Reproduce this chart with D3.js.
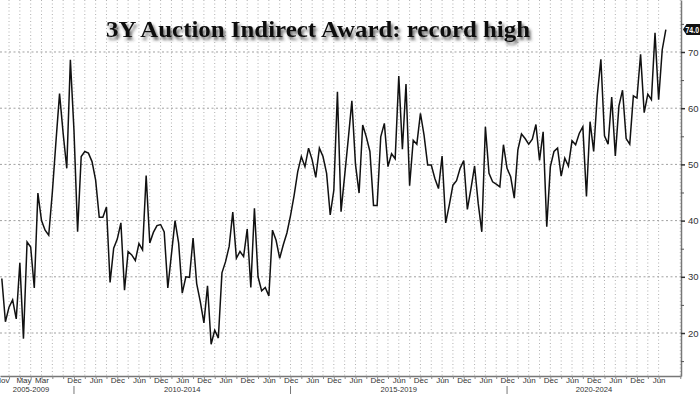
<!DOCTYPE html>
<html>
<head>
<meta charset="utf-8">
<script src="https://cdn.jsdelivr.net/npm/d3@7"></script>
<style>
  html, body { margin: 0; padding: 0; background: #fff; }
  svg { display: block; }
</style>
</head>
<body>
<script>
  // quarterly auctions before the 3Y note was paused, then monthly from Nov 2008
  const earlyAuctions = ['2005-11', '2006-02', '2006-05', '2006-08', '2006-11', '2007-02', '2007-05'];
  const monthlyStart = '2008-11';
  const monthlyEnd = '2023-08';

  // indirect award, % of issue
  const indirectAward = [
    29.7, 22.0, 24.6, 25.9, 22.5, 32.5, 19.0, 36.2, 35.3, 28.0,
    44.9, 40.0, 38.3, 37.4, 45.0, 54.0, 62.6, 55.5, 49.3, 68.6,
    56.0, 38.0, 51.4, 52.3, 52.0, 50.5, 47.2, 40.6, 40.6, 42.4,
    29.0, 35.1, 36.7, 39.6, 27.6, 34.5, 33.9, 32.9, 35.9, 34.8,
    48.0, 36.0, 37.9, 39.1, 39.3, 38.0, 28.0, 34.0, 40.0, 36.0,
    27.1, 30.0, 29.9, 36.9, 28.8, 25.6, 21.8, 28.4, 18.0, 20.5,
    19.1, 30.7, 32.7, 35.4, 41.5, 33.3, 34.5, 33.6, 38.5, 28.1,
    42.2, 30.0, 27.5, 28.1, 26.6, 38.3, 36.5, 33.3, 35.7, 37.8,
    40.9, 44.5, 48.7, 51.4, 49.6, 52.9, 50.8, 47.7, 52.9, 51.4,
    48.4, 41.0, 45.4, 62.9, 41.6, 48.0, 54.5, 61.3, 50.0, 44.9,
    57.0, 54.9, 52.3, 42.7, 42.7, 54.9, 57.3, 49.6, 51.9, 51.0,
    65.7, 52.7, 64.3, 46.2, 54.3, 53.6, 59.1, 55.2, 49.9, 49.9,
    47.5, 45.7, 51.5, 39.6, 42.8, 46.3, 47.1, 49.3, 50.7, 42.0,
    45.7, 49.7, 43.1, 38.0, 56.7, 48.4, 46.9, 46.5, 46.0, 53.5,
    49.3, 47.8, 44.0, 52.6, 55.4, 54.6, 53.6, 54.5, 57.1, 50.7,
    55.8, 38.9, 49.6, 52.3, 52.9, 47.9, 51.1, 49.7, 54.2, 53.5,
    55.5, 56.7, 44.3, 57.6, 52.3, 62.3, 68.7, 55.1, 53.6, 62.0,
    51.5, 60.4, 63.2, 54.6, 53.6, 62.2, 61.8, 69.6, 59.2, 62.5,
    61.5, 73.4, 61.5, 70.4, 74.0
  ];

  const extraTickDates = ['2005-11', '2007-05', '2009-03'];
  const yearGroups = ['2005-2009', '2010-2014', '2015-2019', '2020-2024'];
  const yTicks = [20, 30, 40, 50, 60, 70];
  const titleText = '3Y Auction Indirect Award: record high';

  const parseMonth = d3.timeParse('%Y-%m');
  const fmtMonth = d3.timeFormat('%Y-%m');
  const monthly = d3.timeMonth.range(parseMonth(monthlyStart), d3.timeMonth.offset(parseMonth(monthlyEnd), 1))
    .map(fmtMonth);
  const dates = earlyAuctions.concat(monthly);
  const data = dates.map((d, i) => ({ i, date: parseMonth(d), key: d, value: indirectAward[i] }));

  const width = 700;
  const height = 394;
  const plotRight = 681;
  const plotBottom = 376;
  const axisFont = '"Liberation Sans", Arial, sans-serif';

  const xScale = d3.scaleLinear().domain([-0.5, 188.2]).range([0, plotRight]);
  const yScale = d3.scaleLinear().domain([12.35, 79.25]).range([plotBottom, 0]);

  const svg = d3.select('body').append('svg')
    .attr('width', width)
    .attr('height', height);

  const defs = svg.append('defs');
  const shadow = defs.append('filter').attr('id', 'shadow')
    .attr('x', '-5%').attr('y', '-30%').attr('width', '110%').attr('height', '180%');
  shadow.append('feDropShadow')
    .attr('dx', 2).attr('dy', 3).attr('stdDeviation', 1.6)
    .attr('flood-color', '#333').attr('flood-opacity', 0.75);

  // quarter gridlines (Mar/Jun/Sep/Dec)
  const quarterIdx = data.filter((d) => d.i >= 7 ? d.date.getMonth() % 3 === 2 : d.i % 3 === 2).map((d) => d.i);
  for (let i = 186; i <= 188; i++) if (i % 3 === 2) quarterIdx.push(i);

  svg.append('g')
    .selectAll('line')
    .data(quarterIdx)
    .join('line')
    .attr('x1', (d) => xScale(d)).attr('x2', (d) => xScale(d))
    .attr('y1', 0).attr('y2', plotBottom)
    .attr('stroke', '#b0b0b0')
    .attr('stroke-width', 1)
    .attr('stroke-dasharray', '1,2.5');

  svg.append('g')
    .selectAll('line')
    .data(yTicks)
    .join('line')
    .attr('x1', 0).attr('x2', plotRight)
    .attr('y1', (d) => yScale(d)).attr('y2', (d) => yScale(d))
    .attr('stroke', '#a0a0a0')
    .attr('stroke-width', 1)
    .attr('stroke-dasharray', '2,2.5');

  // title with drop shadow
  svg.append('text')
    .attr('x', 106)
    .attr('y', 37)
    .attr('textLength', 424)
    .attr('lengthAdjust', 'spacingAndGlyphs')
    .attr('font-family', '"Liberation Serif", "DejaVu Serif", serif')
    .attr('font-weight', 'bold')
    .attr('font-size', 23)
    .attr('fill', '#111')
    .attr('filter', 'url(#shadow)')
    .text(titleText);

  // the line
  const line = d3.line()
    .x((d) => xScale(d.i))
    .y((d) => yScale(d.value));

  svg.append('path')
    .datum(data)
    .attr('d', line)
    .attr('fill', 'none')
    .attr('stroke', '#111')
    .attr('stroke-width', 1.5)
    .attr('stroke-linejoin', 'miter');

  // right axis
  const yAxis = svg.append('g')
    .attr('transform', `translate(${plotRight},0)`)
    .call(d3.axisRight(yScale).tickValues(yTicks).tickSize(4).tickSizeOuter(0).tickPadding(3));
  yAxis.select('.domain').attr('stroke', '#777').attr('stroke-width', 1.5);
  yAxis.selectAll('.tick line').attr('stroke', '#333').attr('stroke-width', 1.5);
  yAxis.selectAll('.tick text').attr('font-family', axisFont).attr('font-size', 9.5).attr('fill', '#333');

  svg.append('g')
    .attr('transform', `translate(${plotRight},0)`)
    .call(d3.axisRight(yScale).tickValues([15, 25, 35, 45, 55, 65, 75]).tickSize(3).tickSizeOuter(0).tickFormat(''))
    .call((g) => g.select('.domain').remove())
    .selectAll('.tick line').attr('stroke', '#555');

  // bottom axis: quarter ticks
  const xAxis = svg.append('g')
    .attr('transform', `translate(0,${plotBottom})`)
    .call(d3.axisBottom(xScale).tickValues(quarterIdx).tickSize(3).tickSizeOuter(0).tickFormat(''));
  xAxis.select('.domain').attr('stroke', '#777').attr('stroke-width', 1.5);
  xAxis.selectAll('.tick line').attr('stroke', '#888');

  // month labels
  const labelled = data.filter((d) => extraTickDates.includes(d.key) ||
    (d.i >= 20 && (d.date.getMonth() === 11 || d.date.getMonth() === 5)));
  const monthName = d3.timeFormat('%b');

  svg.append('g')
    .attr('transform', `translate(0,${plotBottom})`)
    .call(d3.axisBottom(xScale)
      .tickValues(labelled.map((d) => d.i))
      .tickSize(0)
      .tickPadding(1.5)
      .tickFormat((i) => monthName(data[i].date)))
    .call((g) => g.select('.domain').remove())
    .selectAll('.tick text')
    .attr('font-family', axisFont)
    .attr('font-size', 8)
    .attr('fill', '#333');

  // year group separators and labels
  const sepIdx = data.filter((d) => d.i >= 7 && d.date.getMonth() === 11 && d.date.getFullYear() % 5 === 4).map((d) => d.i);
  svg.append('g')
    .selectAll('line')
    .data(sepIdx)
    .join('line')
    .attr('x1', (d) => xScale(d)).attr('x2', (d) => xScale(d))
    .attr('y1', 386).attr('y2', height)
    .attr('stroke', '#777');

  const bounds = [0].concat(sepIdx.map((d) => xScale(d)), [plotRight]);
  svg.append('g')
    .selectAll('text')
    .data(yearGroups)
    .join('text')
    .attr('x', (d, k) => k === 0 ? 31 : (bounds[k] + bounds[k + 1]) / 2)
    .attr('y', 391.8)
    .attr('text-anchor', 'middle')
    .attr('font-family', axisFont)
    .attr('font-size', 7.6)
    .attr('fill', '#333')
    .text((d) => d);

  // last value tag
  const last = data[data.length - 1];
  const ly = yScale(last.value);
  svg.append('path')
    .attr('d', `M${plotRight + 2},${ly} L${plotRight + 5.5},${ly - 5.5} L${width},${ly - 5.5} L${width},${ly + 5.5} L${plotRight + 5.5},${ly + 5.5} Z`)
    .attr('fill', '#111');
  svg.append('text')
    .attr('x', plotRight + 4.5)
    .attr('y', ly + 3)
    .attr('textLength', 13.5)
    .attr('lengthAdjust', 'spacingAndGlyphs')
    .attr('font-family', axisFont)
    .attr('font-weight', 'bold')
    .attr('font-size', 8.5)
    .attr('fill', '#fff')
    .text(last.value.toFixed(1));
</script>
</body>
</html>
